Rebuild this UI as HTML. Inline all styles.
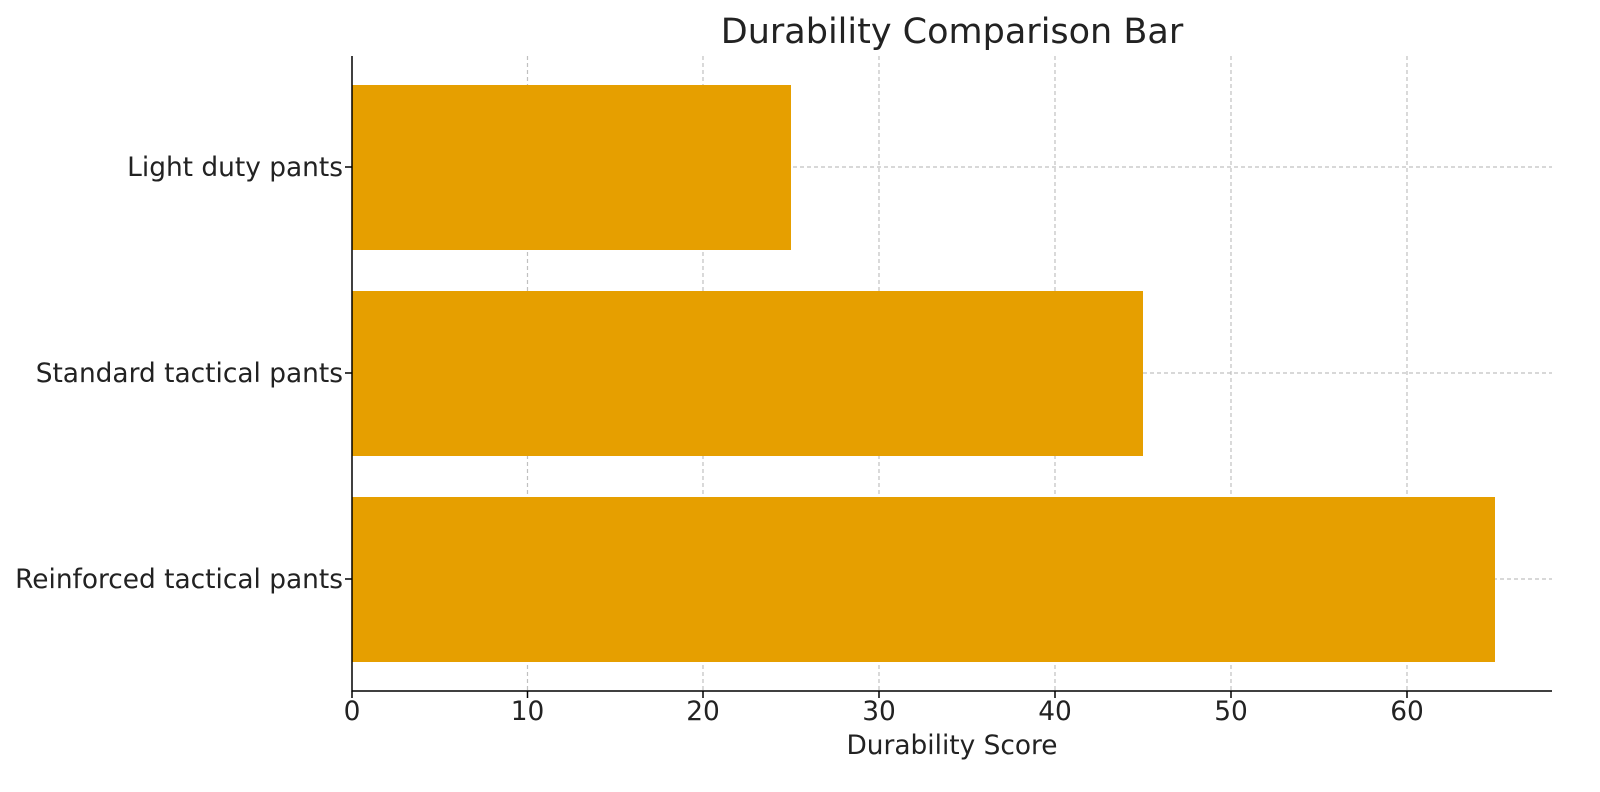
<!DOCTYPE html>
<html><head><meta charset="utf-8"><style>body{margin:0;background:#fff}svg{display:block}text{font-family:"DejaVu Sans","Liberation Sans",sans-serif;fill:#222}</style></head>
<body>
<svg width="1600" height="792" viewBox="0 0 1600 792">
<g stroke="#c0c0c0" stroke-width="1.2" stroke-dasharray="4,3">
<line x1="527.5" y1="56" x2="527.5" y2="691"/>
<line x1="703" y1="56" x2="703" y2="691"/>
<line x1="879" y1="56" x2="879" y2="691"/>
<line x1="1055" y1="56" x2="1055" y2="691"/>
<line x1="1231" y1="56" x2="1231" y2="691"/>
<line x1="1407" y1="56" x2="1407" y2="691"/>
<line x1="352" y1="167" x2="1552" y2="167"/>
<line x1="352" y1="373" x2="1552" y2="373"/>
<line x1="352" y1="579" x2="1552" y2="579"/>
</g>
<g fill="#e69f00">
<rect x="352" y="85" width="439" height="165"/>
<rect x="352" y="291" width="791" height="165"/>
<rect x="352" y="497" width="1143" height="165"/>
</g>
<g stroke="#000" stroke-width="1.5">
<line x1="352" y1="56" x2="352" y2="691.5"/>
<line x1="351.5" y1="691" x2="1552" y2="691"/>
<line x1="352" y1="691" x2="352" y2="698"/>
<line x1="527.5" y1="691" x2="527.5" y2="698"/>
<line x1="703" y1="691" x2="703" y2="698"/>
<line x1="879" y1="691" x2="879" y2="698"/>
<line x1="1055" y1="691" x2="1055" y2="698"/>
<line x1="1231" y1="691" x2="1231" y2="698"/>
<line x1="1407" y1="691" x2="1407" y2="698"/>
<line x1="345" y1="167" x2="352" y2="167"/>
<line x1="345" y1="373" x2="352" y2="373"/>
<line x1="345" y1="579" x2="352" y2="579"/>
</g>
<g font-size="26.4" text-anchor="middle">
<text x="352" y="720">0</text>
<text x="527.5" y="720">10</text>
<text x="703" y="720">20</text>
<text x="879" y="720">30</text>
<text x="1055" y="720">40</text>
<text x="1231" y="720">50</text>
<text x="1407" y="720">60</text>
<text x="952" y="754">Durability Score</text>
</g>
<g font-size="26.4" text-anchor="end">
<text x="343" y="176">Light duty pants</text>
<text x="343" y="382">Standard tactical pants</text>
<text x="343" y="588">Reinforced tactical pants</text>
</g>
<text x="952" y="43" font-size="35" text-anchor="middle">Durability Comparison Bar</text>
</svg>
</body></html>
